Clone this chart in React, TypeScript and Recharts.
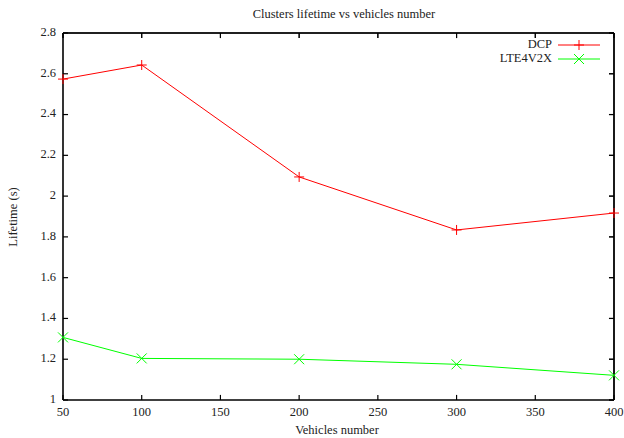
import React from "react";
import { LineChart, Line, XAxis, YAxis, ReferenceLine } from "recharts";

const vehicles = [50, 100, 200, 300, 400];
const dcp = [2.574, 2.643, 2.094, 1.834, 1.917];
const lte4v2x = [1.307, 1.204, 1.2, 1.175, 1.121];
const xTicks = [50, 100, 150, 200, 250, 300, 350, 400];
const yTicks = [1, 1.2, 1.4, 1.6, 1.8, 2, 2.2, 2.4, 2.6, 2.8];
const yTickLabels = ["1", "1.2", "1.4", "1.6", "1.8", "2", "2.2", "2.4", "2.6", "2.8"];
const seriesNames = ["DCP", "LTE4V2X"];

const data = vehicles.map((v, i) => ({ x: v, dcp: dcp[i], lte: lte4v2x[i] }));

const X_MIN = 50;
const X_MAX = 400;
const Y_MIN = 1;
const Y_MAX = 2.8;
// inward tick length expressed in axis units (about 5 px)
const TICK_X = 3.2;
const TICK_Y = 0.025;

const FONT = "'Liberation Serif', 'DejaVu Serif', serif";
const RED = "#ff0000";
const GREEN = "#00ff00";
const FRAME = "#000";

const PlusDot = (props: any) => {
  const { cx, cy } = props;
  if (cx == null || cy == null) return null;
  const s = 5;
  return (
    <g>
      <line x1={cx - s} y1={cy} x2={cx + s} y2={cy} stroke={RED} strokeWidth={1} />
      <line x1={cx} y1={cy - s} x2={cx} y2={cy + s} stroke={RED} strokeWidth={1} />
    </g>
  );
};

const CrossDot = (props: any) => {
  const { cx, cy } = props;
  if (cx == null || cy == null) return null;
  const s = 5;
  return (
    <g>
      <line x1={cx - s} y1={cy - s} x2={cx + s} y2={cy + s} stroke={GREEN} strokeWidth={1} />
      <line x1={cx - s} y1={cy + s} x2={cx + s} y2={cy - s} stroke={GREEN} strokeWidth={1} />
    </g>
  );
};

const BottomTick = (props: any) => {
  const { x, y, payload } = props;
  return (
    <text x={x} y={y + 6} textAnchor="middle" dominantBaseline="middle" fontFamily={FONT} fontSize={12.5} fill="#222">
      {payload.value}
    </text>
  );
};

const LeftTick = (props: any) => {
  const { x, y, payload } = props;
  const idx = yTicks.indexOf(payload.value);
  const label = idx >= 0 ? yTickLabels[idx] : String(payload.value);
  return (
    <text x={x} y={y} textAnchor="end" dominantBaseline="middle" fontFamily={FONT} fontSize={12.5} fill="#222">
      {label}
    </text>
  );
};

const noLabel = () => "";

export default function App() {
  return (
    <div style={{ position: "absolute", left: 0, top: 0, width: 624, height: 438, overflow: "hidden", background: "#fff" }}>
      <LineChart width={634} height={438} data={data} margin={{ top: 13, right: 0, bottom: 0, left: 0 }}>
        <XAxis
          dataKey="x"
          type="number"
          domain={[X_MIN, X_MAX]}
          ticks={xTicks}
          interval={0}
          height={38}
          axisLine={false}
          tickLine={false}
          tickSize={0}
          tickMargin={7}
          tick={<BottomTick />}
        />
        <YAxis
          type="number"
          domain={[Y_MIN, Y_MAX]}
          ticks={yTicks}
          interval={0}
          width={63}
          axisLine={false}
          tickLine={false}
          tickSize={0}
          tickMargin={7}
          tick={<LeftTick />}
        />
        <XAxis
          xAxisId="top"
          orientation="top"
          dataKey="x"
          type="number"
          domain={[X_MIN, X_MAX]}
          ticks={xTicks}
          interval={0}
          height={20}
          stroke={FRAME}
          tickSize={-5}
          tickFormatter={noLabel}
        />
        <YAxis
          yAxisId="right"
          orientation="right"
          type="number"
          domain={[Y_MIN, Y_MAX]}
          ticks={yTicks}
          interval={0}
          width={20}
          stroke={FRAME}
          tickSize={-5}
          tickFormatter={noLabel}
        />
        {xTicks.map((t) => (
          <ReferenceLine key={"bt" + t} segment={[{ x: t, y: Y_MIN }, { x: t, y: Y_MIN + TICK_Y }]} stroke={FRAME} strokeWidth={1.2} ifOverflow="visible" />
        ))}
        {xTicks.map((t) => (
          <ReferenceLine key={"tt" + t} segment={[{ x: t, y: Y_MAX }, { x: t, y: Y_MAX - TICK_Y }]} stroke={FRAME} strokeWidth={1.2} ifOverflow="visible" />
        ))}
        {yTicks.map((t) => (
          <ReferenceLine key={"lt" + t} segment={[{ x: X_MIN, y: t }, { x: X_MIN + TICK_X, y: t }]} stroke={FRAME} strokeWidth={1.2} ifOverflow="visible" />
        ))}
        {yTicks.map((t) => (
          <ReferenceLine key={"rt" + t} segment={[{ x: X_MAX, y: t }, { x: X_MAX - TICK_X, y: t }]} stroke={FRAME} strokeWidth={1.2} ifOverflow="visible" />
        ))}
        <ReferenceLine y={Y_MIN} stroke={FRAME} strokeWidth={1.6} ifOverflow="visible" />
        <ReferenceLine y={Y_MAX} stroke={FRAME} strokeWidth={1.6} ifOverflow="visible" />
        <ReferenceLine x={X_MIN} stroke={FRAME} strokeWidth={1.6} ifOverflow="visible" />
        <ReferenceLine x={X_MAX} stroke={FRAME} strokeWidth={1.6} ifOverflow="visible" />
        <Line
          xAxisId="top"
          yAxisId="right"
          dataKey="dcp"
          name={seriesNames[0]}
          stroke={RED}
          strokeWidth={1}
          dot={<PlusDot />}
          activeDot={false}
          isAnimationActive={false}
        />
        <Line
          dataKey="lte"
          name={seriesNames[1]}
          stroke={GREEN}
          strokeWidth={1}
          dot={<CrossDot />}
          activeDot={false}
          isAnimationActive={false}
        />
        <g>
          <text x={552} y={45} textAnchor="end" dominantBaseline="middle" fontFamily={FONT} fontSize={12.5} fill="#222">{seriesNames[0]}</text>
          <line x1={558} y1={45} x2={600} y2={45} stroke={RED} strokeWidth={1} />
          <PlusDot cx={579} cy={45} />
          <text x={552} y={59} textAnchor="end" dominantBaseline="middle" fontFamily={FONT} fontSize={12.5} fill="#222">{seriesNames[1]}</text>
          <line x1={558} y1={59} x2={600} y2={59} stroke={GREEN} strokeWidth={1} />
          <CrossDot cx={579} cy={59} />
        </g>
        <text x={344} y={15} textAnchor="middle" dominantBaseline="middle" fontFamily={FONT} fontSize={12.5} fill="#222">
          Clusters lifetime vs vehicles number
        </text>
        <text x={337} y={431} textAnchor="middle" dominantBaseline="middle" fontFamily={FONT} fontSize={12.5} fill="#222">
          Vehicles number
        </text>
        <text x={14} y={217} transform="rotate(-90 14 217)" textAnchor="middle" dominantBaseline="middle" fontFamily={FONT} fontSize={12.5} fill="#222">
          Lifetime (s)
        </text>
      </LineChart>
    </div>
  );
}
